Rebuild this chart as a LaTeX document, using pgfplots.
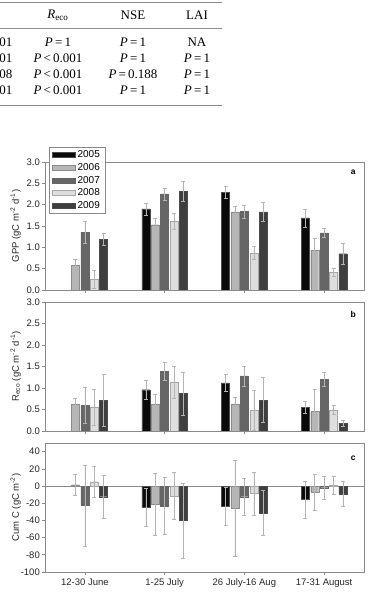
\documentclass[border=0pt]{standalone}
\usepackage{fontspec}
\setmainfont{Liberation Sans}
\newfontfamily\tabfont{Liberation Serif}
\usepackage{pgfplots}
\usepackage{pgfplotstable}
\pgfplotsset{compat=1.18}

\definecolor{c05}{HTML}{0A0A0A}
\definecolor{c06}{HTML}{B6B6B6}
\definecolor{c07}{HTML}{666666}
\definecolor{c08}{HTML}{DEDEDE}
\definecolor{c09}{HTML}{3E3E3E}
\definecolor{errc}{HTML}{B4B4B4}
\definecolor{axgray}{HTML}{8A8A8A}
\definecolor{rulegray}{HTML}{8C8C8C}

% GPP (gC m-2 d-1): mean and error for each year, per period
\pgfplotstableread{
x  y05  e05  y06  e06  y07  e07  y08  e08  y09  e09
0  nan  nan  0.57 0.15 1.35 0.26 0.25 0.21 1.18 0.14
1  1.90 0.14 1.53 0.14 2.25 0.14 1.62 0.19 2.32 0.24
2  2.29 0.13 1.83 0.13 1.84 0.15 0.87 0.15 1.83 0.23
3  1.69 0.21 0.93 0.29 1.34 0.11 0.41 0.09 0.85 0.24
}\gpp

% Ecosystem respiration (gC m-2 d-1)
\pgfplotstableread{
x  y05  e05  y06  e06  y07  e07  y08  e08  y09  e09
0  nan  nan  0.62 0.15 0.60 0.41 0.56 0.42 0.71 0.60
1  0.96 0.22 0.62 0.23 1.38 0.21 1.13 0.37 0.87 0.50
2  1.12 0.19 0.63 0.15 1.28 0.23 0.48 0.46 0.72 0.52
3  0.55 0.14 0.45 0.52 1.20 0.16 0.49 0.10 0.18 0.07
}\reco

% Cumulative carbon (gC m-2)
\pgfplotstableread{
x  y05    e05   y06   e06   y07    e07   y08    e08   y09    e09
0  nan    nan   1.5   12    -22.5  47    5      18    -12.5  25
1  -25    22    -21   36    -23    33.5  -11.5  27    -40    43.5
2  -24    22    -26   55.5  -12.5  22    -8.5   25    -31.5  26
3  -15.5  21.5  -7    21    -2     13.5  1      10.5  -9.5   14.5
}\cumc

\tikzset{tag/.style={font=\bfseries\fontsize{8.5}{10}\selectfont}}

\pgfplotsset{
  yr05/.style={fill=c05, draw=black!70, line width=0.4pt},
  yr06/.style={fill=c06, draw=black!45, line width=0.4pt},
  yr07/.style={fill=c07, draw=black!60, line width=0.4pt},
  yr08/.style={fill=c08, draw=black!35, line width=0.4pt},
  yr09/.style={fill=c09, draw=black!70, line width=0.4pt},
  errs/.style={
    error bars/y dir=both,
    error bars/y explicit,
    error bars/error bar style={errc, line width=0.5pt},
    error bars/error mark options={rotate=90, mark size=2pt, errc, line width=0.5pt}},
  panel/.style={
    scale only axis, width=319pt, anchor=south west,
    xmin=-0.5, xmax=3.5, xtick={0,1,2,3},
    ybar=1.4pt, bar width=8pt,
    axis line style={axgray, line width=0.6pt},
    tick style={axgray, line width=0.6pt},
    tick align=outside, xtick pos=bottom, ytick pos=left,
    major tick length=3pt,
    ticklabel style={font=\fontsize{9.5}{11}\selectfont, text=black!85},
    yticklabel style={inner xsep=2pt},
    every axis y label/.style={at={(axis description cs:-0.092,0.5)},
      rotate=90, anchor=center, font=\fontsize{9.5}{11}\selectfont, text=black!85},
    legend image code/.code={\draw[##1] (0pt,-2.4pt) rectangle (23pt,2.4pt);},
  },
}

\begin{document}
\begin{tikzpicture}
\path[use as bounding box] (0,0) rectangle (368pt,597pt);

% table of test results above the figure
\begin{scope}
\clip (0,0) rectangle (368pt,597pt);
\draw[rulegray, line width=0.8pt] (-5pt,594.7pt) -- (222pt,594.7pt);
\draw[rulegray, line width=0.6pt] (-5pt,568.7pt) -- (222pt,568.7pt);
\draw[rulegray, line width=0.8pt] (-5pt,491.7pt) -- (222pt,491.7pt);
\begin{scope}[every node/.style={font=\tabfont\fontsize{13}{15}\selectfont, inner sep=0pt}]
\node at (58pt,582pt) {\textit{R}\textsubscript{eco}};
\node at (133pt,582pt) {NSE};
\node at (197pt,582pt) {LAI};
\node[anchor=east] at (12.7pt,555pt) {\textit{P}\,<\,0.001};
\node[anchor=east] at (12.7pt,539pt) {\textit{P}\,<\,0.001};
\node[anchor=east] at (12.7pt,523pt) {\textit{P}\,=\,0.008};
\node[anchor=east] at (12.7pt,506.5pt) {\textit{P}\,<\,0.001};
\node at (58pt,555pt) {\textit{P}\,=\,1};
\node at (58pt,539pt) {\textit{P}\,<\,0.001};
\node at (58pt,523pt) {\textit{P}\,<\,0.001};
\node at (58pt,506.5pt) {\textit{P}\,<\,0.001};
\node at (133pt,555pt) {\textit{P}\,=\,1};
\node at (133pt,539pt) {\textit{P}\,=\,1};
\node at (133pt,523pt) {\textit{P}\,=\,0.188};
\node at (133pt,506.5pt) {\textit{P}\,=\,1};
\node at (197pt,555pt) {NA};
\node at (197pt,539pt) {\textit{P}\,=\,1};
\node at (197pt,523pt) {\textit{P}\,=\,1};
\node at (197pt,506.5pt) {\textit{P}\,=\,1};
\end{scope}
\end{scope}

% (a) GPP
\begin{axis}[panel, at={(45pt,307pt)}, height=128pt,
  ymin=0, ymax=3, ytick={0,0.5,...,3},
  yticklabels={0.0,0.5,1.0,1.5,2.0,2.5,3.0},
  xticklabels={},
  ylabel={GPP (gC m\textsuperscript{-2} d\textsuperscript{-1})},
  legend style={at={(axis description cs:0.0125,1.117)}, anchor=north west,
    draw=axgray, fill=white, font=\fontsize{10}{11}\selectfont,
    inner xsep=3pt, inner ysep=1.5pt, row sep=0.2pt},
  legend cell align=left]
\addplot[yr05, errs] table[x=x, y=y05, y error=e05] {\gpp};
\addplot[yr06, errs] table[x=x, y=y06, y error=e06] {\gpp};
\addplot[yr07, errs] table[x=x, y=y07, y error=e07] {\gpp};
\addplot[yr08, errs] table[x=x, y=y08, y error=e08] {\gpp};
\addplot[yr09, errs] table[x=x, y=y09, y error=e09] {\gpp};
\legend{2005,2006,2007,2008,2009}
\node[tag] at (axis description cs:0.966,0.92) {a};
\end{axis}

% (b) ecosystem respiration
\begin{axis}[panel, at={(45pt,166pt)}, height=129pt,
  ymin=0, ymax=3, ytick={0,0.5,...,3},
  yticklabels={0.0,0.5,1.0,1.5,2.0,2.5,3.0},
  xticklabels={},
  ylabel={R\textsubscript{eco} (gC m\textsuperscript{-2} d\textsuperscript{-1})}]
\addplot[yr05, errs] table[x=x, y=y05, y error=e05] {\reco};
\addplot[yr06, errs] table[x=x, y=y06, y error=e06] {\reco};
\addplot[yr07, errs] table[x=x, y=y07, y error=e07] {\reco};
\addplot[yr08, errs] table[x=x, y=y08, y error=e08] {\reco};
\addplot[yr09, errs] table[x=x, y=y09, y error=e09] {\reco};
\node[tag] at (axis description cs:0.966,0.90) {b};
\end{axis}

% (c) cumulative carbon
\begin{axis}[panel, at={(45pt,25pt)}, height=129pt,
  ymin=-100, ymax=50, ytick={-100,-80,...,40},
  yticklabels={-100,-80,-60,-40,-20,0,20,40},
  extra y ticks={0}, extra y tick labels={},
  extra y tick style={grid=major, major grid style={axgray, line width=0.6pt}},
  xticklabels={12-30 June, 1-25 July, 26 July-16 Aug, 17-31 August},
  ylabel={Cum C (gC m\textsuperscript{-2})}]
\addplot[yr05, errs] table[x=x, y=y05, y error=e05] {\cumc};
\addplot[yr06, errs] table[x=x, y=y06, y error=e06] {\cumc};
\addplot[yr07, errs] table[x=x, y=y07, y error=e07] {\cumc};
\addplot[yr08, errs] table[x=x, y=y08, y error=e08] {\cumc};
\addplot[yr09, errs] table[x=x, y=y09, y error=e09] {\cumc};
\node[tag] at (axis description cs:0.966,0.884) {c};
\end{axis}
\end{tikzpicture}
\end{document}
